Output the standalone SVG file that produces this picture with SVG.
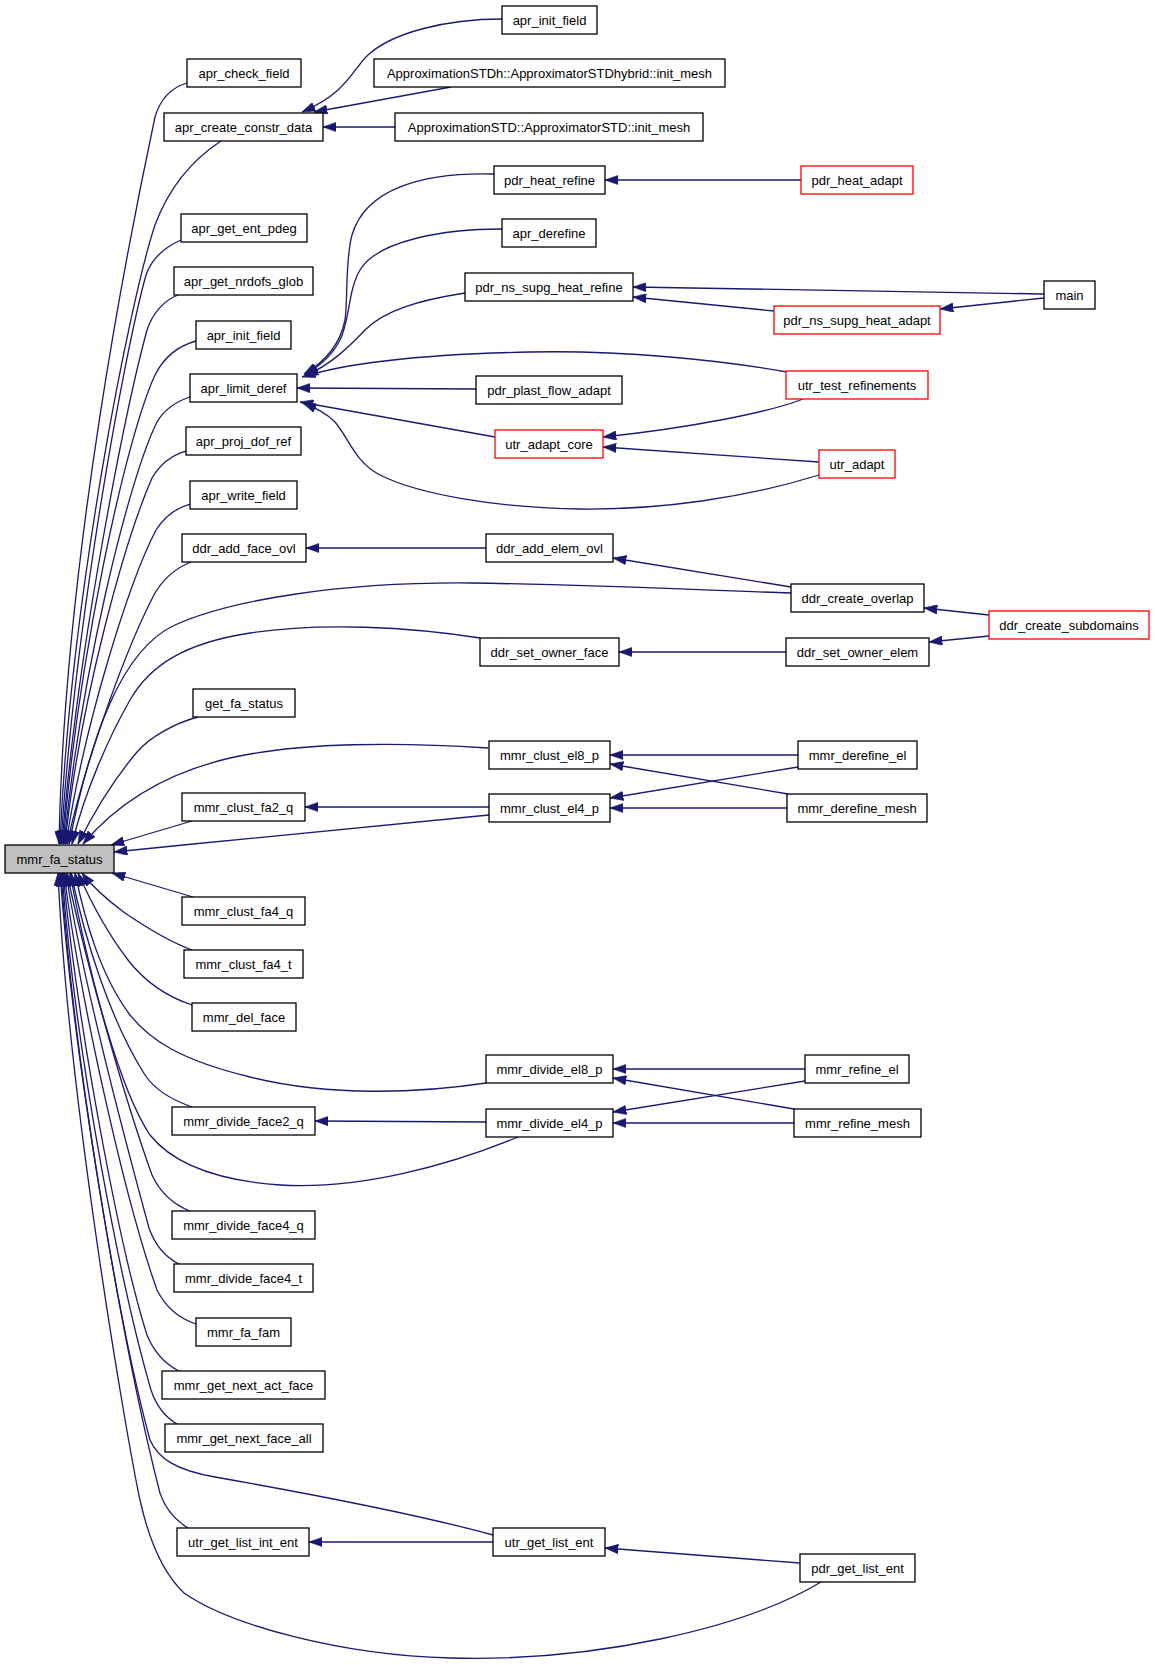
<svg xmlns="http://www.w3.org/2000/svg" width="1155" height="1665" viewBox="0 0 1155 1665">
<style>
.n rect{fill:#fff;stroke:#000;stroke-width:1.3}
.n.r rect{stroke:#ff0000}
.n.g rect{fill:#bfbfbf}
.n text{font-family:"Liberation Sans",Arial,Helvetica,sans-serif;font-size:13px;text-anchor:middle;fill:#000}
#edges path{fill:none;stroke:#191970;stroke-width:1.3;marker-end:url(#a)}
</style>
<defs>
<marker id="a" markerUnits="userSpaceOnUse" viewBox="0 0 14 9.4" markerWidth="14" markerHeight="9.4" refX="13.3" refY="4.7" orient="auto">
<path d="M0,0 L13.3,4.7 L0,9.4 z" fill="#191970" stroke="#191970" stroke-width="0.6"/>
</marker>
</defs>
<rect width="1155" height="1665" fill="#fff"/>
<g id="edges">
<path d="M502,19 C445,19 392,33 368,55 C352,70 348,92 302,112"/>
<path d="M451,87 L314,112"/>
<path d="M395,127 L323,127"/>
<path d="M187,83 C170,88 160,100 155,117 C131,230 64,560 59,844"/>
<path d="M221,141 C195,158 170,185 155,225 C130,300 70,600 60,844"/>
<path d="M181,240 C165,247 152,258 146,275 C125,350 75,620 61,844"/>
<path d="M178,295 C165,300 153,312 147,330 C128,400 78,640 62,844"/>
<path d="M196,341 C178,346 164,357 155,375 C125,440 78,660 63,844"/>
<path d="M190,397 C175,402 164,410 157,422 C128,480 80,680 64,844"/>
<path d="M494,174 C420,172 365,190 352,235 C345,260 348,300 345,320 C340,345 325,362 304,374"/>
<path d="M801,180 L605,180"/>
<path d="M502,229 C445,229 378,240 360,270 C348,290 350,320 340,340 C332,356 320,366 305,375"/>
<path d="M465,293 C420,300 385,310 365,330 C348,348 330,365 305,376"/>
<path d="M1044,294 L633,287"/>
<path d="M774,311 L633,297"/>
<path d="M1044,298 L940,309"/>
<path d="M787,372 C720,360 620,350 530,352 C430,354 350,362 302,377"/>
<path d="M476,389 L297,388"/>
<path d="M495,437 L300,402"/>
<path d="M803,399 C770,412 690,428 603,437"/>
<path d="M819,462 L603,447"/>
<path d="M819,475 C745,498 660,510 580,509 C500,508 420,495 380,475 C355,462 350,440 335,422 C325,412 315,408 303,403"/>
<path d="M186,451 C172,455 160,464 152,478 C125,540 80,700 65,844"/>
<path d="M190,504 C176,508 165,516 156,530 C130,580 85,720 66,844"/>
<path d="M191,562 C176,568 164,578 155,593 C130,640 88,750 67,844"/>
<path d="M486,548 L306,548"/>
<path d="M791,587 L613,558"/>
<path d="M791,593 C700,590 600,585 470,583 C340,582 230,600 175,625 C120,650 90,740 69,844"/>
<path d="M989,615 L924,608"/>
<path d="M989,636 L929,642"/>
<path d="M786,652 L619,652"/>
<path d="M480,638 C410,627 320,622 250,633 C185,643 150,665 130,700 C110,735 85,790 72,844"/>
<path d="M198,717 C175,723 150,737 137,752 C115,778 95,810 78,844"/>
<path d="M488,748 C400,742 300,742 230,758 C170,772 120,800 83,844"/>
<path d="M798,755 L610,755"/>
<path d="M788,794 L610,764"/>
<path d="M192,821 L111,845"/>
<path d="M489,807 L305,807"/>
<path d="M489,815 C400,824 250,838 114,852"/>
<path d="M798,767 L610,798"/>
<path d="M787,808 L610,808"/>
<path d="M193,897 L112,873"/>
<path d="M192,950 C170,942 150,930 125,913 C110,902 95,890 82,873"/>
<path d="M192,1005 C165,996 145,982 128,960 C105,930 90,900 78,873"/>
<path d="M486,1083 C420,1093 330,1097 250,1077 C180,1060 150,1040 130,1015 C100,975 85,920 75,873"/>
<path d="M805,1069 L613,1069"/>
<path d="M794,1109 L613,1078"/>
<path d="M192,1107 C172,1100 155,1090 145,1075 C110,1020 85,940 71,873"/>
<path d="M486,1122 L315,1121"/>
<path d="M518,1137 C450,1165 360,1190 280,1185 C210,1180 170,1160 150,1135 C120,1090 90,980 70,873"/>
<path d="M805,1081 L613,1112"/>
<path d="M794,1123 L613,1123"/>
<path d="M190,1211 C172,1204 160,1192 152,1175 C125,1100 85,960 67,873"/>
<path d="M179,1264 C165,1257 155,1245 149,1228 C125,1140 82,980 66,873"/>
<path d="M196,1324 C178,1318 165,1306 157,1290 C125,1200 80,1000 64,873"/>
<path d="M179,1371 C165,1364 154,1352 147,1335 C120,1250 78,1030 63,873"/>
<path d="M177,1424 C165,1417 156,1405 151,1390 C122,1290 76,1060 62,873"/>
<path d="M493,1535 C420,1515 300,1492 215,1477 C175,1470 158,1458 150,1440 C120,1330 75,1070 61,873"/>
<path d="M188,1528 C175,1520 165,1508 160,1493 C128,1370 75,1080 60,873"/>
<path d="M493,1542 L309,1542"/>
<path d="M800,1563 L605,1548"/>
<path d="M821,1582 C745,1628 595,1662 450,1658 C340,1655 230,1625 184,1593 C165,1575 150,1545 140,1500 C128,1445 68,1100 58,873"/>
</g>
<g id="n1" class="n"><rect x="502" y="6" width="95" height="28"/><text x="549.5" y="25">apr_init_field</text></g>
<g id="n2" class="n"><rect x="374" y="59" width="351" height="28"/><text x="549.5" y="78">ApproximationSTDh::ApproximatorSTDhybrid::init_mesh</text></g>
<g id="n3" class="n"><rect x="395" y="113" width="308" height="28"/><text x="549" y="132">ApproximationSTD::ApproximatorSTD::init_mesh</text></g>
<g id="n4" class="n"><rect x="187" y="59" width="114" height="28"/><text x="244" y="78">apr_check_field</text></g>
<g id="n5" class="n"><rect x="164" y="113" width="159" height="28"/><text x="243.5" y="132">apr_create_constr_data</text></g>
<g id="n6" class="n"><rect x="494" y="166" width="111" height="28"/><text x="549.5" y="185">pdr_heat_refine</text></g>
<g id="n7" class="n r"><rect x="801" y="166" width="112" height="28"/><text x="857" y="185">pdr_heat_adapt</text></g>
<g id="n8" class="n"><rect x="181" y="214" width="126" height="28"/><text x="244" y="233">apr_get_ent_pdeg</text></g>
<g id="n9" class="n"><rect x="502" y="219" width="94" height="28"/><text x="549" y="238">apr_derefine</text></g>
<g id="n10" class="n"><rect x="174" y="267" width="139" height="28"/><text x="243.5" y="286">apr_get_nrdofs_glob</text></g>
<g id="n11" class="n"><rect x="465" y="273" width="168" height="28"/><text x="549" y="292">pdr_ns_supg_heat_refine</text></g>
<g id="n12" class="n"><rect x="1044" y="281" width="51" height="28"/><text x="1069.5" y="300">main</text></g>
<g id="n13" class="n r"><rect x="774" y="306" width="166" height="28"/><text x="857" y="325">pdr_ns_supg_heat_adapt</text></g>
<g id="n14" class="n"><rect x="196" y="321" width="95" height="28"/><text x="243.5" y="340">apr_init_field</text></g>
<g id="n15" class="n"><rect x="190" y="374" width="107" height="28"/><text x="243.5" y="393">apr_limit_deref</text></g>
<g id="n16" class="n"><rect x="476" y="376" width="146" height="28"/><text x="549" y="395">pdr_plast_flow_adapt</text></g>
<g id="n17" class="n r"><rect x="786" y="371" width="142" height="28"/><text x="857" y="390">utr_test_refinements</text></g>
<g id="n18" class="n r"><rect x="495" y="430" width="108" height="28"/><text x="549" y="449">utr_adapt_core</text></g>
<g id="n19" class="n"><rect x="186" y="427" width="115" height="28"/><text x="243.5" y="446">apr_proj_dof_ref</text></g>
<g id="n20" class="n r"><rect x="819" y="450" width="76" height="28"/><text x="857" y="469">utr_adapt</text></g>
<g id="n21" class="n"><rect x="190" y="481" width="107" height="28"/><text x="243.5" y="500">apr_write_field</text></g>
<g id="n22" class="n"><rect x="182" y="534" width="124" height="28"/><text x="244" y="553">ddr_add_face_ovl</text></g>
<g id="n23" class="n"><rect x="486" y="534" width="127" height="28"/><text x="549.5" y="553">ddr_add_elem_ovl</text></g>
<g id="n24" class="n"><rect x="791" y="584" width="133" height="28"/><text x="857.5" y="603">ddr_create_overlap</text></g>
<g id="n25" class="n r"><rect x="989" y="611" width="160" height="28"/><text x="1069" y="630">ddr_create_subdomains</text></g>
<g id="n26" class="n"><rect x="480" y="638" width="139" height="28"/><text x="549.5" y="657">ddr_set_owner_face</text></g>
<g id="n27" class="n"><rect x="786" y="638" width="143" height="28"/><text x="857.5" y="657">ddr_set_owner_elem</text></g>
<g id="n28" class="n"><rect x="193" y="689" width="102" height="28"/><text x="244" y="708">get_fa_status</text></g>
<g id="n29" class="n"><rect x="489" y="741" width="121" height="28"/><text x="549.5" y="760">mmr_clust_el8_p</text></g>
<g id="n30" class="n"><rect x="798" y="741" width="119" height="28"/><text x="857.5" y="760">mmr_derefine_el</text></g>
<g id="n31" class="n"><rect x="182" y="793" width="123" height="28"/><text x="243.5" y="812">mmr_clust_fa2_q</text></g>
<g id="n32" class="n"><rect x="489" y="794" width="121" height="28"/><text x="549.5" y="813">mmr_clust_el4_p</text></g>
<g id="n33" class="n"><rect x="787" y="794" width="140" height="28"/><text x="857" y="813">mmr_derefine_mesh</text></g>
<g id="n34" class="n g"><rect x="5" y="845" width="109" height="28"/><text x="59.5" y="864">mmr_fa_status</text></g>
<g id="n35" class="n"><rect x="182" y="897" width="123" height="28"/><text x="243.5" y="916">mmr_clust_fa4_q</text></g>
<g id="n36" class="n"><rect x="184" y="950" width="119" height="28"/><text x="243.5" y="969">mmr_clust_fa4_t</text></g>
<g id="n37" class="n"><rect x="192" y="1003" width="104" height="28"/><text x="244" y="1022">mmr_del_face</text></g>
<g id="n38" class="n"><rect x="486" y="1055" width="127" height="28"/><text x="549.5" y="1074">mmr_divide_el8_p</text></g>
<g id="n39" class="n"><rect x="805" y="1055" width="104" height="28"/><text x="857" y="1074">mmr_refine_el</text></g>
<g id="n40" class="n"><rect x="172" y="1107" width="143" height="28"/><text x="243.5" y="1126">mmr_divide_face2_q</text></g>
<g id="n41" class="n"><rect x="486" y="1109" width="127" height="28"/><text x="549.5" y="1128">mmr_divide_el4_p</text></g>
<g id="n42" class="n"><rect x="794" y="1109" width="127" height="28"/><text x="857.5" y="1128">mmr_refine_mesh</text></g>
<g id="n43" class="n"><rect x="172" y="1211" width="143" height="28"/><text x="243.5" y="1230">mmr_divide_face4_q</text></g>
<g id="n44" class="n"><rect x="174" y="1264" width="139" height="28"/><text x="243.5" y="1283">mmr_divide_face4_t</text></g>
<g id="n45" class="n"><rect x="196" y="1318" width="95" height="28"/><text x="243.5" y="1337">mmr_fa_fam</text></g>
<g id="n46" class="n"><rect x="162" y="1371" width="163" height="28"/><text x="243.5" y="1390">mmr_get_next_act_face</text></g>
<g id="n47" class="n"><rect x="165" y="1424" width="158" height="28"/><text x="244" y="1443">mmr_get_next_face_all</text></g>
<g id="n48" class="n"><rect x="177" y="1528" width="132" height="28"/><text x="243" y="1547">utr_get_list_int_ent</text></g>
<g id="n49" class="n"><rect x="493" y="1528" width="112" height="28"/><text x="549" y="1547">utr_get_list_ent</text></g>
<g id="n50" class="n"><rect x="800" y="1554" width="115" height="28"/><text x="857.5" y="1573">pdr_get_list_ent</text></g>
</svg>
